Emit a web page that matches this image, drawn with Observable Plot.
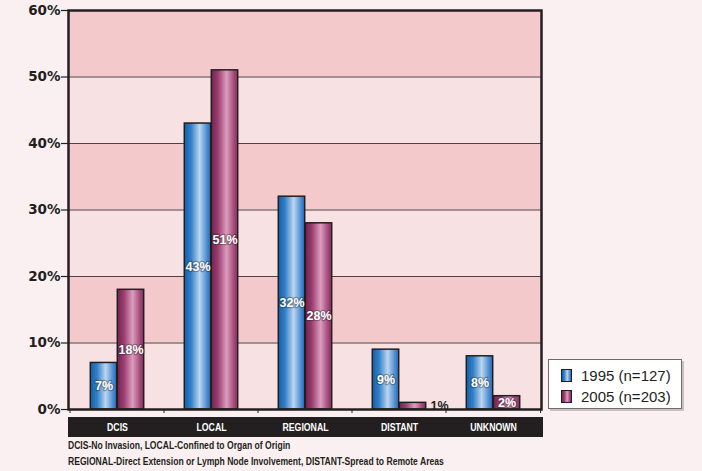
<!DOCTYPE html>
<html>
<head>
<meta charset="utf-8">
<script src="https://cdn.jsdelivr.net/npm/d3@7"></script>
<script src="https://cdn.jsdelivr.net/npm/@observablehq/plot@0.6"></script>
<style>
  html, body { margin: 0; padding: 0; background: #fbf0f1; overflow: hidden; }
  #wrap { position: relative; width: 702px; height: 471px; }
  #wrap svg { display: block; background: transparent; }
  .note {
    font-family: "Liberation Sans Narrow", "Arial Narrow", sans-serif;
    font-weight: bold; font-size: 11.5px; color: #231f20;
    margin: -3px 0 0 68px; line-height: 16px; white-space: nowrap;
    transform: scaleX(0.745); transform-origin: left top;
  }
  .legend {
    position: absolute; left: 548px; top: 359px; width: 134px; height: 50px;
    box-sizing: border-box; background: #fff; border: 1px solid #6d6d6d;
    box-shadow: 2px 2px 0 #c9c0c2; padding-top: 5px;
    font-family: "Liberation Sans", Arial, sans-serif; font-size: 15px; color: #231f20;
  }
  .legend .row { height: 21px; line-height: 21px; display: flex; align-items: center; }
  .legend .sw { width: 9px; height: 11px; border: 1px solid #231f20; margin: 0 9px 0 12px; }
</style>
</head>
<body>
<div id="wrap"></div>
<script>
// Stage at diagnosis, share of cases per year
const categories = ["DCIS", "LOCAL", "REGIONAL", "DISTANT", "UNKNOWN"];
const values1995 = [7, 43, 32, 9, 8];
const values2005 = [18, 51, 28, 1, 2];
const seriesNames = ["1995 (n=127)", "2005 (n=203)"];
const yTicks = [0, 10, 20, 30, 40, 50, 60];
const notes = [
  "DCIS-No Invasion, LOCAL-Confined to Organ of Origin",
  "REGIONAL-Direct Extension or Lymph Node Involvement, DISTANT-Spread to Remote Areas"
];

const rows = [
  ...categories.map((c, i) => ({category: c, series: 0, value: values1995[i]})),
  ...categories.map((c, i) => ({category: c, series: 1, value: values2005[i]}))
];
// alternating background stripes between gridlines; the top stripe is the darker one
const bands = yTicks.slice(0, -1).map((t, i) => ({y1: t, y2: yTicks[i + 1], dark: i % 2 === 1}));

const W = 702, H = 440, mL = 68, mR = 161, mT = 10, mB = 31;
const step = (W - mL - mR) / categories.length;
const barW = 27;
const half = step / 2;

// cylinder-style shading for each series
const gradStops = [
  [["0%", "#155fa8"], ["25%", "#2f7fc8"], ["58%", "#bcd5ef"], ["85%", "#4f8fd2"], ["100%", "#2569b3"]],
  [["0%", "#742250"], ["25%", "#9a3d70"], ["58%", "#dc9dbd"], ["85%", "#a64b7c"], ["100%", "#86305f"]]
];
const defsMark = () => {
  const defs = d3.create("svg:defs");
  gradStops.forEach((stops, k) => {
    const g = defs.append("linearGradient").attr("id", "shade" + k)
      .attr("x1", "0").attr("x2", "1").attr("y1", "0").attr("y2", "0");
    stops.forEach(([o, c]) => g.append("stop").attr("offset", o).attr("stop-color", c));
  });
  return defs.node();
};

// black category strip under the plot, with boundary ticks
const categoryStrip = (index, {x}, values, {width, height, marginLeft, marginRight, marginBottom}) => {
  const g = d3.create("svg:g");
  const base = height - marginBottom;
  g.append("rect").attr("x", marginLeft).attr("y", base + 8)
    .attr("width", width - marginLeft - marginRight + 2).attr("height", 20).attr("fill", "#231f20");
  const edges = categories.map(c => x(c)).concat([x(categories[categories.length - 1]) + step]);
  edges.forEach(e => g.append("line").attr("x1", e).attr("x2", e).attr("y1", base).attr("y2", base + 4)
    .attr("stroke", "#231f20").attr("stroke-width", 1));
  return g.node();
};

const barFor = k => Plot.barY(rows.filter(d => d.series === k), {
  x: "category", y: "value",
  fill: `url(#shade${k})`, stroke: "#231f20", strokeWidth: 1.5,
  insetLeft: k === 0 ? half - barW : half,
  insetRight: k === 0 ? half : half - barW
});

const labelFont = "Liberation Sans Narrow, Arial Narrow, sans-serif";
// value labels centred inside each bar; bars too short for text get the label beside them
const insideLabels = k => Plot.text(rows.filter(d => d.series === k && d.value >= 2), {
  x: "category", y: d => d.value / 2, text: d => d.value + "%",
  dx: k === 0 ? -barW / 2 : barW / 2,
  fill: "#fff", fontWeight: "bold", fontSize: 12.5, fontFamily: labelFont,
  stroke: "#1b1b1b", strokeOpacity: 0.35, strokeWidth: 2.5, paintOrder: "stroke"
});
const outsideLabels = Plot.text(rows.filter(d => d.series === 1 && d.value < 2), {
  x: "category", y: d => d.value / 2, text: d => d.value + "%",
  dx: barW + 4, textAnchor: "start", fill: "#231f20", fontWeight: "bold",
  fontSize: 12.5, fontFamily: labelFont
});

const chart = Plot.plot({
  width: W, height: H,
  marginLeft: mL, marginRight: mR, marginTop: mT, marginBottom: mB,
  style: {background: "transparent", color: "#231f20"},
  x: {domain: categories, padding: 0, axis: null},
  y: {domain: [0, 60], axis: null},
  marks: [
    defsMark,
    Plot.rectY(bands, {y1: "y1", y2: "y2", fill: d => d.dark ? "#f4c9cc" : "#f8e1e3"}),
    Plot.ruleY(yTicks.slice(1, -1), {stroke: "#4a4244", strokeWidth: 1}),
    barFor(0),
    barFor(1),
    insideLabels(0),
    insideLabels(1),
    outsideLabels,
    Plot.frame({stroke: "#231f20", strokeWidth: 2.5}),
    categoryStrip,
    Plot.axisX({tickSize: 0, tickPadding: 13, fontSize: 11.5, fontWeight: "bold", fill: "#fff",
      fontFamily: labelFont, label: null}),
    Plot.axisY({ticks: yTicks, tickFormat: d => d + "%", tickSize: 7, tickPadding: 1,
      fontSize: 13.5, fontWeight: "bold", fontFamily: "DejaVu Sans, sans-serif", label: null,
      strokeWidth: 1.2})
  ]
});

const wrap = document.getElementById("wrap");
wrap.appendChild(chart);

// the category names use a tighter, condensed setting
chart.querySelectorAll("text").forEach(t => {
  if (!categories.includes(t.textContent)) return;
  const len = t.getComputedTextLength();
  t.setAttribute("textLength", (len * 0.76).toFixed(1));
  t.setAttribute("lengthAdjust", "spacingAndGlyphs");
});

const note = document.createElement("div");
note.className = "note";
note.innerHTML = notes.map(n => `<div>${n}</div>`).join("");
wrap.appendChild(note);

const legend = document.createElement("div");
legend.className = "legend";
seriesNames.forEach((name, k) => {
  const stops = gradStops[k].map(([o, c]) => `${c} ${o}`).join(", ");
  const row = document.createElement("div");
  row.className = "row";
  row.innerHTML = `<span class="sw" style="background: linear-gradient(to right, ${stops})"></span><span>${name}</span>`;
  legend.appendChild(row);
});
wrap.appendChild(legend);
</script>
</body>
</html>
